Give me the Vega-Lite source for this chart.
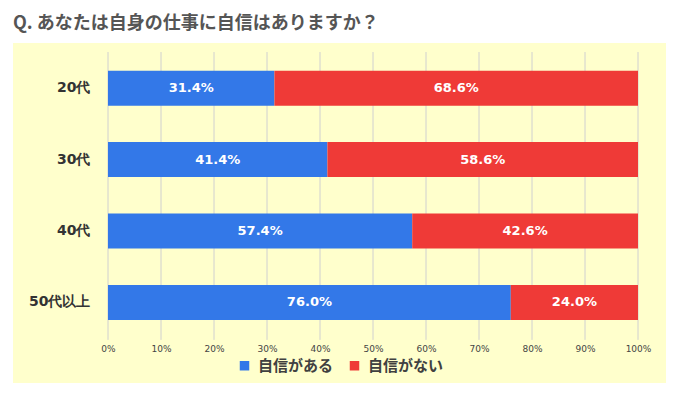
{
  "$schema": "https://vega.github.io/schema/vega-lite/v6.json",
  "width": 653,
  "height": 340,
  "autosize": {"type": "none"},
  "padding": {"left": 13, "top": 43, "right": 15, "bottom": 11},
  "background": "#ffffff",
  "config": {
    "view": {"fill": "#FFFFCC", "stroke": null},
    "font": "DejaVu Sans"
  },
  "title": {
    "text": "Q. あなたは自身の仕事に自信はありますか？",
    "anchor": "start",
    "frame": "group",
    "fontSize": 18,
    "fontWeight": "bold",
    "color": "#555555",
    "font": "Noto Sans CJK JP",
    "offset": 10
  },
  "datasets": {
    "answers": [
      {"age": "20代", "answer": "自信がある", "share": 0.314},
      {"age": "20代", "answer": "自信がない", "share": 0.686},
      {"age": "30代", "answer": "自信がある", "share": 0.414},
      {"age": "30代", "answer": "自信がない", "share": 0.586},
      {"age": "40代", "answer": "自信がある", "share": 0.574},
      {"age": "40代", "answer": "自信がない", "share": 0.426},
      {"age": "50代以上", "answer": "自信がある", "share": 0.76},
      {"age": "50代以上", "answer": "自信がない", "share": 0.24}
    ],
    "grid": [
      {"pct": 0}, {"pct": 0.1}, {"pct": 0.2}, {"pct": 0.3}, {"pct": 0.4}, {"pct": 0.5},
      {"pct": 0.6}, {"pct": 0.7}, {"pct": 0.8}, {"pct": 0.9}, {"pct": 1}
    ]
  },
  "layer": [
    {
      "data": {"name": "grid"},
      "mark": {"type": "rule", "color": "#d0d0d0", "strokeWidth": 1},
      "encoding": {
        "x": {"field": "pct", "type": "quantitative"},
        "y": {"datum": "20代", "type": "nominal", "bandPosition": -0.534},
        "y2": {"datum": "50代以上", "bandPosition": 1.571}
      }
    },
    {
      "data": {"name": "answers"},
      "mark": {"type": "bar"},
      "encoding": {
        "x": {
          "field": "share",
          "type": "quantitative",
          "stack": "zero",
          "scale": {"domain": [-0.17925, 1.05283], "nice": false, "zero": false},
          "axis": {
            "orient": "bottom",
            "offset": -43,
            "values": [0, 0.1, 0.2, 0.3, 0.4, 0.5, 0.6, 0.7, 0.8, 0.9, 1],
            "format": ".0%",
            "title": null,
            "domain": false,
            "ticks": false,
            "grid": false,
            "labelPadding": 4,
            "labelFontSize": 9,
            "labelColor": "#444444",
            "labelFont": "DejaVu Sans"
          }
        },
        "y": {
          "field": "age",
          "type": "nominal",
          "scale": {
            "domain": ["20代", "30代", "40代", "50代以上"],
            "paddingInner": 0.51,
            "paddingOuter": 0.636,
            "align": 0.305
          },
          "axis": {
            "orient": "left",
            "offset": -95,
            "title": null,
            "domain": false,
            "ticks": false,
            "labelPadding": 18,
            "labelFontSize": 14,
            "labelFontWeight": "bold",
            "labelColor": "#333333",
            "labelFont": "DejaVu Sans"
          }
        },
        "color": {
          "field": "answer",
          "type": "nominal",
          "scale": {"domain": ["自信がある", "自信がない"], "range": ["#3378E8", "#EF3A37"]},
          "legend": {
            "orient": "none",
            "legendX": 224,
            "legendY": 315,
            "direction": "horizontal",
            "title": null,
            "padding": 0,
            "symbolType": "square",
            "symbolSize": 90,
            "symbolStrokeWidth": 0,
            "labelFontSize": 15,
            "labelFontWeight": "bold",
            "labelColor": "#404040",
            "labelFont": "Noto Sans CJK JP",
            "labelOffset": 6,
            "columnPadding": 13
          }
        },
        "order": {"field": "answer", "sort": "ascending"}
      }
    },
    {
      "data": {"name": "answers"},
      "mark": {"type": "text", "color": "#ffffff", "fontSize": 13, "fontWeight": "bold", "font": "DejaVu Sans", "baseline": "middle", "align": "center"},
      "encoding": {
        "x": {"field": "share", "type": "quantitative", "stack": "zero", "bandPosition": 0.5},
        "y": {"field": "age", "type": "nominal"},
        "detail": {"field": "answer"},
        "order": {"field": "answer", "sort": "ascending"},
        "text": {"field": "share", "type": "quantitative", "format": ".1%"}
      }
    }
  ]
}
